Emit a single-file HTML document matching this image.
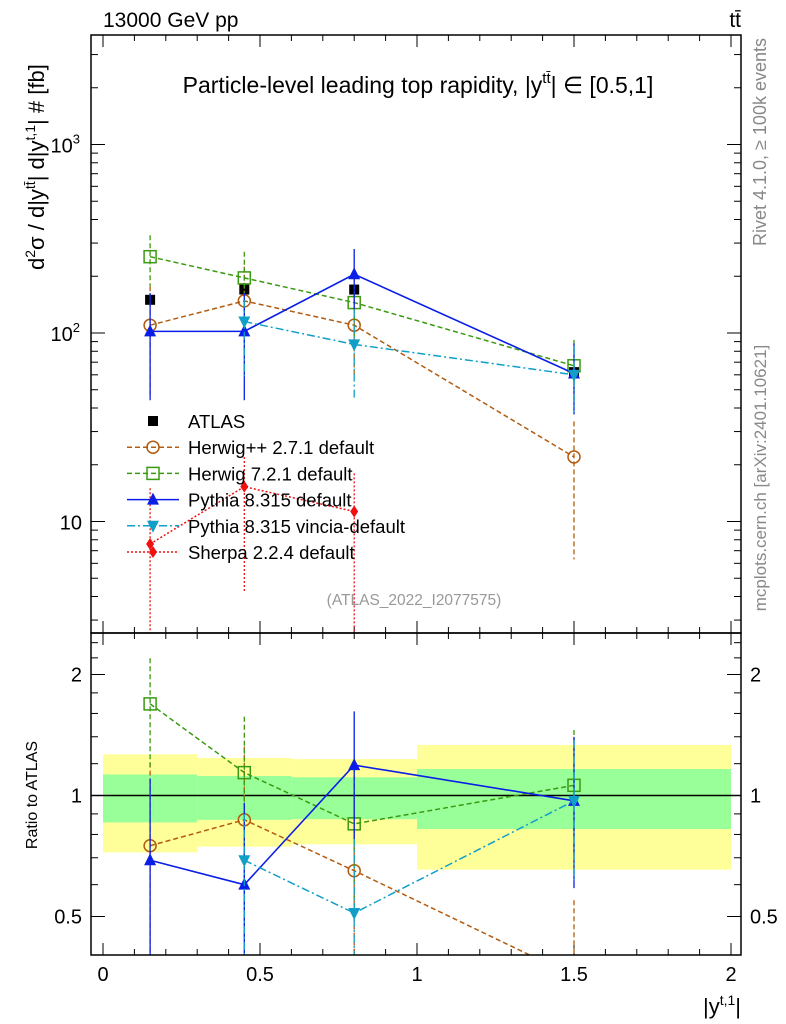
<!DOCTYPE html>
<html><head><meta charset="utf-8"><style>
html,body{margin:0;padding:0;background:#fff;overflow:hidden;width:786px;height:1024px}
svg{display:block}
svg text{font-family:"Liberation Sans",sans-serif}
</style></head><body>
<svg id="c" width="786" height="1024" xmlns="http://www.w3.org/2000/svg">
<defs>
<clipPath id="cm"><rect x="91" y="35" width="650" height="598"/></clipPath>
<clipPath id="cr"><rect x="91" y="633" width="650" height="322"/></clipPath>
</defs>
<g id="bands" clip-path="url(#cr)"></g>
<g id="grid"></g>
<g id="series"></g>
<rect x="91" y="35" width="650" height="598" fill="none" stroke="#000" stroke-width="1.5"/>
<rect x="91" y="633" width="650" height="322" fill="none" stroke="#000" stroke-width="1.5"/>
<text x="103" y="27" font-size="21">13000 GeV pp</text>
<text x="741" y="27" font-size="21" text-anchor="end">tt̄</text>
<text x="418" y="93" font-size="23" text-anchor="middle">Particle-level leading top rapidity, |y<tspan font-size="15" dy="-10">tt̄</tspan><tspan dy="10">| ∈ [0.5,1]</tspan></text>
<text transform="translate(44,270) rotate(-90)" font-size="22" text-anchor="start">d<tspan font-size="14" dy="-9">2</tspan><tspan dy="9">σ / d|y</tspan><tspan font-size="14" dy="-9">tt̄</tspan><tspan dy="9">| d|y</tspan><tspan font-size="14" dy="-9">t,1</tspan><tspan dy="9">| # [fb]</tspan></text>
<text transform="translate(37,795) rotate(-90)" font-size="16" text-anchor="middle">Ratio to ATLAS</text>
<text x="741" y="1014" font-size="22" text-anchor="end">|y<tspan font-size="14" dy="-9">t,1</tspan><tspan dy="9">|</tspan></text>
<text transform="translate(766,142) rotate(-90)" font-size="18" fill="#888" text-anchor="middle">Rivet 4.1.0, ≥ 100k events</text>
<text transform="translate(766,478) rotate(-90)" font-size="17" fill="#888" text-anchor="middle">mcplots.cern.ch [arXiv:2401.10621]</text>
<text x="414" y="605" font-size="15.5" fill="#999" text-anchor="middle">(ATLAS_2022_I2077575)</text>
<g id="legend"></g>
</svg>
<script>
const xCenters=[0.15,0.45,0.8,1.5];
const binEdges=[0,0.3,0.6,1.0,2.0];
const atlasVals=[150,170,170,62];
const herwigppVals=[110,148,110,22];
const herwigppUp=[177,225,168,34];
const herwigppDn=[47,75,60,6.3];
const herwig7Vals=[254,196,145,67];
const herwig7Up=[330,270,200,92];
const herwig7Dn=[177,150,90,44];
const pythiaVals=[102,102,205,61];
const pythiaUp=[163,163,279,88];
const pythiaDn=[44,44,134,37];
const vinciaX=[0.45,0.8,1.5];
const vinciaVals=[115,87,60];
const vinciaUp=[150,133,85];
const vinciaDn=[59,44,38];
const sherpaVals=[7.6,15.3,11.3];
const sherpaUp=[15,22,18];
const sherpaDn=[1,4.2,2.5];
const herwigppRatio=[0.75,0.87,0.65,0.355];
const herwig7Ratio=[1.69,1.14,0.85,1.06];
const pythiaRatio=[0.69,0.60,1.19,0.97];
const vinciaRatio=[0.69,0.51,0.97];
const yellowHi=[1.266,1.24,1.232,1.336];
const yellowLo=[0.722,0.746,0.756,0.654];
const greenHi=[1.128,1.118,1.11,1.164];
const greenLo=[0.857,0.87,0.873,0.825];
const xTickLabels=["0","0.5","1","1.5","2"];
const xTickVals=[0,0.5,1,1.5,2];

const NS="http://www.w3.org/2000/svg";
const X=v=>103+v*314;
const Y=v=>333-(Math.log10(v)-2)*188.5;
const R=v=>795.5-Math.log2(v)*121;
function mk(tag,attrs,parent){const e=document.createElementNS(NS,tag);for(const k in attrs)e.setAttribute(k,attrs[k]);parent.appendChild(e);return e;}
const bands=document.getElementById('bands'),grid=document.getElementById('grid'),ser=document.getElementById('series'),leg=document.getElementById('legend');

for(let i=0;i<4;i++){
 let r=mk('rect',{x:X(binEdges[i]),y:R(yellowHi[i]),width:X(binEdges[i+1])-X(binEdges[i]),height:R(yellowLo[i])-R(yellowHi[i]),fill:'#ffff99'},bands);
 
 
 let g=mk('rect',{x:X(binEdges[i]),y:R(greenHi[i]),width:X(binEdges[i+1])-X(binEdges[i]),height:R(greenLo[i])-R(greenHi[i]),fill:'#99ff99'},bands);
 
 
}
let one=mk('line',{x1:91,x2:741,y1:R(1),y2:R(1),stroke:'#000','stroke-width':1.5},grid);



for(let k=0;k<=20;k++){const v=k/10,x=X(v),L=(k%5==0)?12:6;
 mk('line',{x1:x,x2:x,y1:633,y2:633-L,stroke:'#000'},grid);
 mk('line',{x1:x,x2:x,y1:35,y2:35+L,stroke:'#000'},grid);
 mk('line',{x1:x,x2:x,y1:955,y2:955-L,stroke:'#000'},grid);
 mk('line',{x1:x,x2:x,y1:633,y2:633+L,stroke:'#000'},grid);}
xTickVals.forEach((v,i)=>{const t=mk('text',{x:X(v),y:981,'font-size':20,'text-anchor':'middle'},grid);t.textContent=xTickLabels[i];
 
 });
for(let d=0;d<4;d++)for(let m=1;m<10;m++){const v=m*Math.pow(10,d);const y=Y(v);if(y<35||y>633)continue;const L=m==1?14:7;
 mk('line',{x1:91,x2:91+L,y1:y,y2:y,stroke:'#000'},grid);mk('line',{x1:741,x2:741-L,y1:y,y2:y,stroke:'#000'},grid);}
[[10,'10',''],[100,'10','2'],[1000,'10','3']].forEach(a=>{const t=mk('text',{x:a[2]?80:82,y:Y(a[0])+8,'font-size':20,'text-anchor':'end'},grid);
 t.innerHTML=a[1]+(a[2]?'<tspan font-size="13" dy="-9">'+a[2]+'</tspan>':'');
 
 });
[0.5,0.6,0.7,0.8,0.9,1,1.2,1.4,1.6,1.8,2,2.2,2.4].forEach(v=>{const y=R(v);const L=(v==0.5||v==1||v==2)?14:7;
 mk('line',{x1:91,x2:91+L,y1:y,y2:y,stroke:'#000'},grid);mk('line',{x1:741,x2:741-L,y1:y,y2:y,stroke:'#000'},grid);});
[[0.5,'0.5'],[1,'1'],[2,'2']].forEach(a=>{[[82,'end'],[750,'start']].forEach(p=>{const t=mk('text',{x:p[0],y:R(a[0])+7,'font-size':20,'text-anchor':p[1]},grid);t.textContent=a[1];
 
 });});

function marker(g,type,x,y,col){
 if(type=='sq')mk('rect',{x:x-6,y:y-6,width:12,height:12,fill:'none',stroke:col,'stroke-width':1.5},g);
 else if(type=='fsq')mk('rect',{x:x-5,y:y-5,width:10,height:10,fill:col},g);
 else if(type=='circ')mk('circle',{cx:x,cy:y,r:6,fill:'none',stroke:col,'stroke-width':1.5},g);
 else if(type=='up')mk('polygon',{points:`${x},${y-7} ${x-6},${y+5} ${x+6},${y+5}`,fill:col},g);
 else if(type=='dn')mk('polygon',{points:`${x},${y+7} ${x-6},${y-5} ${x+6},${y-5}`,fill:col},g);
 else if(type=='dia')mk('polygon',{points:`${x},${y-6} ${x-4},${y} ${x},${y+6} ${x+4},${y}`,fill:col},g);
}
function series(name,xs,vals,up,dn,ratio,col,dash,type,sw){
 const g=mk('g',{'clip-path':'url(#cm)'},ser);
 
 
 const pts=xs.map((x,i)=>X(x)+','+Y(vals[i])).join(' ');
 mk('polyline',{points:pts,fill:'none',stroke:col,'stroke-width':sw,'stroke-dasharray':dash},g);
 xs.forEach((x,i)=>{mk('line',{x1:X(x),x2:X(x),y1:Y(up[i]),y2:Y(dn[i]),stroke:col,'stroke-width':1.3,'stroke-dasharray':dash},g);
  marker(g,type,X(x),Y(vals[i]),col);});
 if(!ratio)return;
 const gr=mk('g',{'clip-path':'url(#cr)'},ser);
 
 
 mk('polyline',{points:xs.map((x,i)=>X(x)+','+R(ratio[i])).join(' '),fill:'none',stroke:col,'stroke-width':sw,'stroke-dasharray':dash},gr);
 xs.forEach((x,i)=>{mk('line',{x1:X(x),x2:X(x),y1:R(ratio[i]*up[i]/vals[i]),y2:R(ratio[i]*dn[i]/vals[i]),stroke:col,'stroke-width':1.3,'stroke-dasharray':dash},gr);
  marker(gr,type,X(x),R(ratio[i]),col);});
}
const ga=mk('g',{},ser);


xCenters.forEach((x,i)=>marker(ga,'fsq',X(x),Y(atlasVals[i]),'#000'));
series('herwigpp',xCenters,herwigppVals,herwigppUp,herwigppDn,herwigppRatio,'#b25c10','5,3','circ',1.5);
series('herwig7',xCenters,herwig7Vals,herwig7Up,herwig7Dn,herwig7Ratio,'#3a9a10','5,3','sq',1.5);
series('pythia',xCenters,pythiaVals,pythiaUp,pythiaDn,pythiaRatio,'#0a1ee8','','up',1.6);
series('vincia',vinciaX,vinciaVals,vinciaUp,vinciaDn,vinciaRatio,'#119fc8','8,3,2,3','dn',1.5);
series('sherpa',xCenters.slice(0,3),sherpaVals,sherpaUp,sherpaDn,null,'#f01010','2,2','dia',1.5);

const legItems=[['ATLAS','#000','','fsq'],['Herwig++ 2.7.1 default','#b25c10','5,3','circ'],['Herwig 7.2.1 default','#3a9a10','5,3','sq'],['Pythia 8.315 default','#0a1ee8','','up'],['Pythia 8.315 vincia-default','#119fc8','8,3,2,3','dn'],['Sherpa 2.2.4 default','#f01010','2,2','dia']];
legItems.forEach((it,i)=>{const y=421+i*26.2;const g=mk('g',{},leg);
 
 
 if(i>0)mk('line',{x1:127,x2:179,y1:y,y2:y,stroke:it[1],'stroke-width':1.5,'stroke-dasharray':it[2]},g);
 marker(g,it[3],153,y,it[1]);
 const t=mk('text',{x:188,y:y+7,'font-size':18.5},g);t.textContent=it[0];});
</script>
</body></html>
